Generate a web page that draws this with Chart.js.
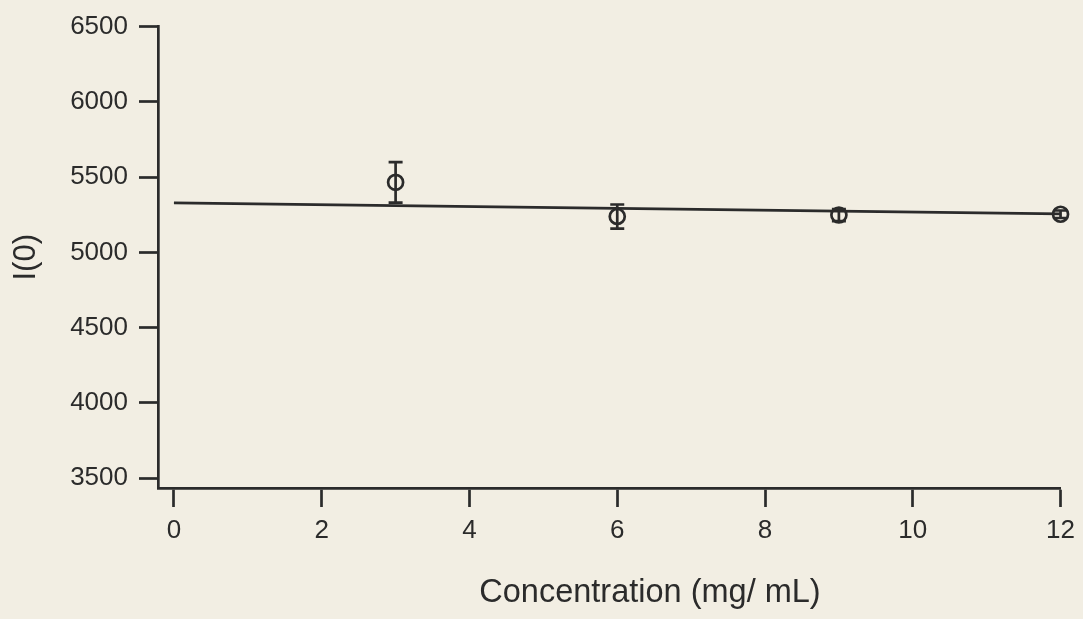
<!DOCTYPE html>
<html>
<head>
<meta charset="utf-8">
<script src="https://cdn.jsdelivr.net/npm/chart.js@4.4.1/dist/chart.umd.min.js"></script>
<style>
    html, body { margin: 0; padding: 0; background: #f2eee3; }
    #wrap { width: 1083px; height: 619px; position: relative; }
</style>
</head>
<body>
<div id="wrap"><canvas id="chart"></canvas></div>
<script>
// I(0) vs concentration, with linear fit

const concentration = [3, 6, 9, 12];
const intensity = [5465, 5238, 5248, 5253];
const intensityErr = [135, 80, 40, 25];
const fitX = [0, 12];
const fitY = [5328, 5255];
const xTicks = [0, 2, 4, 6, 8, 10, 12];
const yTicks = [3500, 4000, 4500, 5000, 5500, 6000, 6500];

const ink = '#2b2b2b';
const fontName = "'Liberation Sans', Arial, sans-serif";
const stroke = 2.7;

// vertical error bars with caps, drawn from the scales
const errorBars = {
    id: 'errorBars',
    afterDatasetsDraw(chart) {
        const { ctx, scales: { x, y } } = chart;
        ctx.save();
        ctx.strokeStyle = ink;
        ctx.lineWidth = stroke;
        concentration.forEach((c, i) => {
            const px = x.getPixelForValue(c);
            const top = y.getPixelForValue(intensity[i] + intensityErr[i]);
            const bot = y.getPixelForValue(intensity[i] - intensityErr[i]);
            ctx.beginPath();
            ctx.moveTo(px, top); ctx.lineTo(px, bot);
            ctx.moveTo(px - 7, top); ctx.lineTo(px + 7, top);
            ctx.moveTo(px - 7, bot); ctx.lineTo(px + 7, bot);
            ctx.stroke();
        });
        ctx.restore();
    }
};

// x axis title sits a little right of the plot centre
const xTitle = {
    id: 'xTitle',
    afterDraw(chart) {
        const ctx = chart.ctx;
        ctx.save();
        ctx.fillStyle = ink;
        ctx.font = '32.5px ' + fontName;
        ctx.textAlign = 'center';
        ctx.textBaseline = 'alphabetic';
        ctx.fillText('Concentration (mg/ mL)', 650, 602);
        ctx.restore();
    }
};

const axisGrid = {
    drawOnChartArea: false,
    drawTicks: true,
    tickLength: 19,
    tickColor: ink,
    tickWidth: stroke
};
const tickFont = { family: fontName, size: 26 };

new Chart(document.getElementById('chart'), {
    type: 'scatter',
    data: {
        datasets: [
            {
                label: 'I(0)',
                data: concentration.map((c, i) => ({ x: c, y: intensity[i] })),
                pointStyle: 'circle',
                pointRadius: 7.5,
                pointBorderWidth: stroke,
                pointBorderColor: ink,
                pointBackgroundColor: 'rgba(0,0,0,0)',
                showLine: false,
                clip: false
            },
            {
                label: 'fit',
                type: 'line',
                data: fitX.map((v, i) => ({ x: v, y: fitY[i] })),
                borderColor: ink,
                borderWidth: stroke,
                pointRadius: 0,
                fill: false
            }
        ]
    },
    options: {
        responsive: true,
        maintainAspectRatio: false,
        animation: false,
        layout: { padding: { top: 25, right: 19, left: 0, bottom: 0 } },
        plugins: {
            legend: { display: false },
            tooltip: { enabled: false }
        },
        scales: {
            x: {
                type: 'linear',
                min: -0.216,
                max: 12,
                afterBuildTicks: s => { s.ticks = xTicks.map(v => ({ value: v })); },
                afterFit: s => { s.height = 131; },
                grid: axisGrid,
                border: { display: true, color: ink, width: stroke },
                ticks: { color: ink, font: tickFont, padding: 8, maxRotation: 0, callback: v => String(v) }
            },
            y: {
                type: 'linear',
                min: 3434,
                max: 6500,
                afterBuildTicks: s => { s.ticks = yTicks.map(v => ({ value: v })); },
                afterFit: s => { s.width = 158; },
                grid: axisGrid,
                border: { display: true, color: ink, width: stroke },
                ticks: { color: ink, font: tickFont, padding: 11, callback: v => String(v) },
                title: {
                    display: true,
                    text: 'I(0)',
                    color: ink,
                    font: { family: fontName, size: 31 },
                    padding: { top: 8, bottom: 0 }
                }
            }
        }
    },
    plugins: [errorBars, xTitle]
});
</script>
</body>
</html>
